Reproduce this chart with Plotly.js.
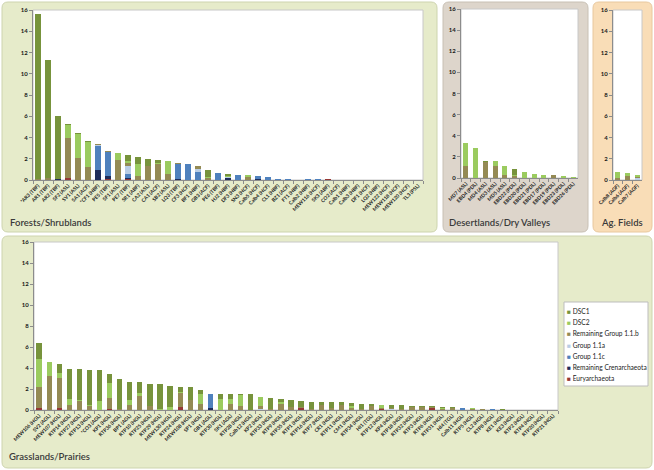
<!DOCTYPE html>
<html><head><meta charset="utf-8">
<script src="https://cdn.plot.ly/plotly-3.0.1.min.js"></script>
<style>html,body{margin:0;padding:0;background:#fff;}#chart{width:654px;height:470px;}</style>
</head><body><div id="chart"></div>
<script>
// ---- series (bottom of stack first) ----
const seriesNames = ['Euryarchaeota','Remaining Crenarchaeota','Group 1.1c','Group 1.1a','Remaining Group 1.1.b','DSC2','DSC1'];
const seriesColors = ['#953735','#1F2D5A','#4F81BD','#B9CDE5','#948A54','#9BCB5F','#77933C'];

// ---- Forests/Shrublands ----
const forestLabels = ['*AR3 (TBF)','AR1 (TBF)','AR2 (TBF)','SF2 (ASL)','SV1 (ASL)','SA1 (ACF)','*CF1 (HBF)','PE5 (TBF)','SF1 (ASL)','PE7 (TBF)','SR1 (ABF)','CA2 (ASL)','CA1 (ACF)','SB2 (ASL)','LQ3 (TBF)','CF3 (HCF)','BF1 (HBF)','GB3 (ACF)','PE6 (TBF)','HJ2 (HBF)','DF3 (HBF)','SN3 (HCF)','Calb5 (HCF)','Calb4 (HCF)','CL1 (HBF)','BZ1 (ACF)','FT1 (HBF)','Calb2 (HBF)','MEW116 (HCF)','SK3 (ABF)','CO2 (ACF)','Calb1 (HBF)','Calb3 (HBF)','DF1 (HCF)','LQ2 (HBF)','MEW122 (HCF)','MEW118 (HCF)','MEW120 (HCF)','TL3 (PSL)'];
const forestEury = [0,0,0,0.15,0,0,0,0.1,0,0.05,0,0.03,0,0,0,0,0,0,0,0,0,0,0,0,0,0,0,0,0,0.07,0,0,0,0,0,0,0,0,0];
const forestCren = [0,0,0.05,0,0,0,0.9,0.25,0,0.15,0,0,0,0,0.12,0,0,0,0,0.2,0,0,0.05,0,0,0,0,0,0.03,0,0,0,0,0,0,0,0,0,0];
const forestG11c = [0,0,0,0,0,0,2.3,2.25,0,0.35,0,0,0,0,1.38,1.5,0.8,0,0.7,0,0.5,0,0.35,0.3,0.08,0.05,0.04,0.05,0.04,0,0,0,0,0,0,0,0,0,0];
const forestG11a = [0,0,0,0,0,0,0.05,0,0,0.75,0,0,0,0,0.05,0.05,0.2,0,0,0.1,0,0,0,0,0,0,0,0,0,0,0,0,0,0,0,0,0,0,0];
const forestG11b = [0.1,0.15,0,3.8,2.1,1.2,0.1,0.1,1.85,0.3,0.4,1.3,1.5,0.6,0.05,0,0.3,0.2,0,0,0,0.3,0,0,0,0,0,0,0,0,0.02,0,0,0,0,0,0,0,0];
const forestDSC2 = [0,0.05,0,1.25,2.25,2.4,0,0,0.65,0.15,1.15,0,0.1,1.15,0,0,0,0.05,0,0.1,0,0.15,0,0,0,0,0,0,0,0,0,0,0,0,0,0,0,0,0];
const forestDSC1 = [15.5,11.1,5.95,0.1,0.05,0.05,0,0,0,0.65,0.65,0.67,0.3,0,0,0,0,0.65,0,0.2,0,0,0,0,0,0,0,0,0,0,0,0,0,0,0,0,0,0,0];

// ---- Desertlands/Dry Valleys ----
const desertLabels = ['MD7 (ASL)','EBD4 (PDL)','MD4 (ASL)','MD3 (ASL)','MD5 (ASL)','EBD22 (PDL)','EBD20 (PDL)','EBD21 (PDL)','EBD17 (PDL)','EBD19 (PDL)','EBD23 (PDL)','EBD26 (PDL)'];
const desertEury = [0,0,0,0,0,0,0,0,0,0,0,0];
const desertCren = [0,0,0,0,0,0,0,0,0,0,0,0];
const desertG11c = [0,0,0,0,0,0,0,0,0,0,0,0];
const desertG11a = [0,0,0,0,0,0,0,0,0,0,0,0];
const desertG11b = [1.1,0,1.5,1.1,0.3,0.15,0,0,0,0.25,0,0.03];
const desertDSC2 = [2.2,2.8,0.05,0.55,0.8,0.1,0.6,0.4,0.25,0,0.18,0.05];
const desertDSC1 = [0,0,0.1,0,0,0.6,0,0,0,0,0,0];

// ---- Ag. Fields ----
const agLabels = ['Calb8 (AGF)','Calb6 (AGF)','Calb7 (AGF)'];
const agEury = [0,0,0];
const agCren = [0,0,0];
const agG11c = [0,0,0];
const agG11a = [0,0,0.15];
const agG11b = [0.2,0.4,0.15];
const agDSC2 = [0.6,0.3,0.2];
const agDSC1 = [0,0,0];

// ---- Grasslands/Prairies ----
const grassLabels = ['MEW106 (HGL)','SV2 (AGL)','MEW107 (HGL)','RTP14 (HGL)','RTP27 (HGL)','RTP13 (HGL)','*CO3 (AGL)','KP1 (HGL)','RTP36 (HGL)','BP1 (AGL)','RTP10 (HGL)','RTP25 (HGL)','RTP29 (HGL)','MEW130 (HGL)','RTP24 (HGL)','MEW108 (HGL)','SP1 (HGL)','GB1 (AGL)','RTP30 (HGL)','SK1 (AGL)','RTP28 (HGL)','Calb12 (HGL)','KP2 (HGL)','RTP33 (HGL)','RTP9 (HGL)','RTP35 (HGL)','RTP1 (HGL)','RTP16 (HGL)','RTP7 (HGL)','CR1 (HGL)','RTP11 (HGL)','CM1 (HGL)','RTP34 (HGL)','HI1 (TGL)','RTP12 (HGL)','KP4 (HGL)','RTP18 (HGL)','RTP32 (HGL)','RTP3 (HGL)','RTP6 (HGL)','RTP31 (HGL)','HI4 (TGL)','Calb11 (HGL)','RTP5 (HGL)','CL2 (HGL)','RTP8 (HGL)','KE1 (HGL)','KE3 (HGL)','RTP2 (HGL)','RTP4 (HGL)','RTP20 (HGL)','RTP21 (HGL)'];
const grassEury = [0.2,0,0.15,0,0,0,0,0.05,0,0,0,0,0,0,0.25,0,0,0,0,0,0,0,0,0,0,0,0.15,0,0,0,0,0,0,0,0.05,0,0,0,0,0.15,0,0,0,0,0,0,0,0,0,0,0,0];
const grassCren = [0,0,0,0,0,0,0,0,0,0,0,0,0,0,0,0,0,0.15,0,0,0,0,0,0,0,0,0,0,0,0,0,0,0,0,0,0,0,0,0,0,0,0,0,0,0,0,0,0,0,0,0,0];
const grassG11c = [0,0,0,0,0,0,0,0,0,0,0,0,0,0,0,0,0,1.35,0,0,0,0,0,0,0,0,0,0,0,0,0,0,0,0,0,0,0,0,0,0,0,0,0.15,0,0,0.1,0,0,0,0,0,0];
const grassG11a = [0,0,0,0,0,0,0,0,0,0,0,0,0,0,0,0,0,0.05,0,0,0,0,0.1,0,0,0,0,0,0,0,0,0,0,0,0,0.1,0,0,0,0,0,0,0.05,0,0,0.03,0,0,0,0,0,0];
const grassG11b = [2.0,3.25,2.9,0.5,0.85,0.4,0,1.1,0.05,0.5,1.35,0.4,0,0,1.35,0.95,0.55,0,0,0.6,0.4,0,0.3,0.05,0.6,0.25,0.15,0.05,0.5,0.2,0.45,0.2,0.05,0.4,0.1,0.05,0.05,0.3,0.25,0.15,0.05,0.2,0,0.05,0.05,0,0.03,0.01,0,0,0,0];
const grassDSC2 = [2.65,1.35,0.45,0.55,0.1,0.05,0.85,1.45,0,0.45,0.25,0,0.1,0.25,0.15,0,1.0,0,1.05,0.45,1.05,0,0.8,0,0.2,0,0,0,0,0,0,0.2,0,0,0.3,0,0,0,0,0,0.1,0,0,0.1,0.08,0,0,0,0,0,0,0];
const grassDSC1 = [1.5,0,0.9,2.85,2.93,3.4,2.95,0.8,2.95,1.7,1.05,2.1,2.35,2.0,0.4,1.2,0.35,0,0.45,0.45,0.05,1.5,0.05,1.05,0.25,0.7,0.6,0.75,0.3,0.55,0.3,0.25,0.55,0.15,0.05,0.3,0.4,0.1,0.1,0.05,0.1,0.05,0,0,0,0,0.04,0,0,0,0,0];

// ---- build ----
const W = 654, H = 470;
const X = px => px / W;
const Y = py => 1 - py / H;
const FONT = 'Lato, "Liberation Sans", sans-serif';

const panels = [
  {labels: forestLabels, series: [forestEury,forestCren,forestG11c,forestG11a,forestG11b,forestDSC2,forestDSC1], ax: '', px: [33,423], py: [10,180]},
  {labels: desertLabels, series: [desertEury,desertCren,desertG11c,desertG11a,desertG11b,desertDSC2,desertDSC1], ax: '2', px: [461,578], py: [9,178]},
  {labels: agLabels, series: [agEury,agCren,agG11c,agG11a,agG11b,agDSC2,agDSC1], ax: '3', px: [613,642], py: [10,180]},
  {labels: grassLabels, series: [grassEury,grassCren,grassG11c,grassG11a,grassG11b,grassDSC2,grassDSC1], ax: '4', px: [34,558], py: [242,410]}
];

const traces = [];
const layout = {
  width: W, height: H,
  margin: {l:0, r:0, t:0, b:0},
  paper_bgcolor: '#ffffff',
  plot_bgcolor: 'rgba(0,0,0,0)',
  barmode: 'stack',
  bargap: 0.48,
  showlegend: false,
  font: {family: FONT, color: '#222'},
  shapes: [],
  annotations: []
};

function rr(x0, y0, x1, y1, r) {
  return `M${X(x0+r)},${Y(y0)} L${X(x1-r)},${Y(y0)} Q${X(x1)},${Y(y0)} ${X(x1)},${Y(y0+r)} L${X(x1)},${Y(y1-r)} Q${X(x1)},${Y(y1)} ${X(x1-r)},${Y(y1)} L${X(x0+r)},${Y(y1)} Q${X(x0)},${Y(y1)} ${X(x0)},${Y(y1-r)} L${X(x0)},${Y(y0+r)} Q${X(x0)},${Y(y0)} ${X(x0+r)},${Y(y0)} Z`;
}
// panel backgrounds
const panelBoxes = [
  {b: [2,2,437,232], fill: '#E6EBCA', line: '#CDD4AE'},
  {b: [443,2,588,232], fill: '#DDD5CB', line: '#C8C0B4'},
  {b: [593,2,652,232], fill: '#F9DDB7', line: '#E8C89E'},
  {b: [2,236,652,468], fill: '#E6EBCA', line: '#CDD4AE'}
];
panelBoxes.forEach(p => layout.shapes.push({type:'path', xref:'paper', yref:'paper', layer:'below',
  path: rr(p.b[0],p.b[1],p.b[2],p.b[3],6), fillcolor: p.fill, line:{color:p.line, width:1}}));

panels.forEach(p => {
  const xa = 'x' + p.ax, ya = 'y' + p.ax;
  layout.shapes.push({type:'rect', xref:'paper', yref:'paper', layer:'below',
    x0: X(p.px[0]), x1: X(p.px[1]), y0: Y(p.py[1]), y1: Y(p.py[0]),
    fillcolor:'#ffffff', line:{color:'#C8C8C8', width:1}});
  p.series.forEach((vals, k) => {
    traces.push({type:'bar', x: p.labels, y: vals, name: seriesNames[k], xaxis: xa, yaxis: ya,
      marker: {color: seriesColors[k], line:{width:0}}, showlegend:false, hoverinfo:'x+y+name'});
  });
  layout['xaxis' + p.ax] = {
    domain: [X(p.px[0]), X(p.px[1])], anchor: ya, type:'category',
    range: [-0.5, p.labels.length - 0.5], tickangle: -45, tickson: 'boundaries',
    ticks: 'outside', ticklen: 3, tickcolor: '#8C8C8C', showline: true, linecolor: '#8C8C8C', linewidth: 1,
    showgrid: false, zeroline: false, fixedrange: true,
    tickfont: {size: 5, family: FONT, color: '#1a1a1a', weight: 'bold'}
  };
  layout['yaxis' + p.ax] = {
    domain: [Y(p.py[1]), Y(p.py[0])], anchor: xa, range: [0, 16], dtick: 2,
    ticks: 'outside', ticklen: 3, tickcolor: '#8C8C8C', showline: true, linecolor: '#8C8C8C', linewidth: 1,
    showgrid: false, zeroline: false, fixedrange: true,
    tickfont: {size: 6, family: FONT, color: '#1a1a1a', weight: 'bold'}
  };
});

// panel titles
const titles = [['Forests/Shrublands', 8, 222], ['Desertlands/Dry Valleys', 447, 222], ['Ag. Fields', 599, 222], ['Grasslands/Prairies', 7, 456]];
titles.forEach(t => layout.annotations.push({text: t[0], xref:'paper', yref:'paper', x: X(t[1]), y: Y(t[2]),
  xanchor:'left', yanchor:'middle', showarrow:false, font:{size: 9.5, family: FONT, color:'#3A3A3A', weight: 600}}));

// legend box
layout.shapes.push({type:'rect', xref:'paper', yref:'paper', x0: X(564), x1: X(648), y0: Y(386), y1: Y(302),
  fillcolor:'#ffffff', line:{color:'#BDBDBD', width:1}});
for (let k = seriesNames.length - 1, row = 0; k >= 0; k--, row++) {
  layout.annotations.push({text: `<span style="color:${seriesColors[k]}">■</span> ${seriesNames[k]}`,
    xref:'paper', yref:'paper', x: X(565), y: Y(311 + row * 11.2), xanchor:'left', yanchor:'middle',
    showarrow:false, font:{size: 6.6, family: FONT, color:'#222'}});
}

Plotly.newPlot('chart', traces, layout, {displayModeBar:false, staticPlot:true});
</script></body></html>
